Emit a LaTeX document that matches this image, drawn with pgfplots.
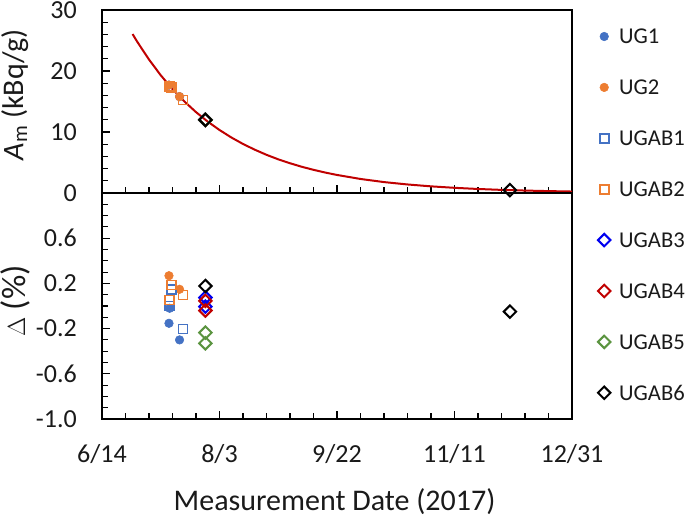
\documentclass[border=0pt]{standalone}
\usepackage{fontspec}
\setmainfont{Carlito}
\usepackage{pgfplots}
\pgfplotsset{compat=1.18}
\definecolor{ugblue}{HTML}{4472C4}
\definecolor{ugorange}{HTML}{ED7D31}
\definecolor{abblue}{HTML}{0000F0}
\definecolor{abred}{HTML}{C00000}
\definecolor{abgreen}{HTML}{5B9440}
\definecolor{curvered}{HTML}{C00000}
\definecolor{txt}{HTML}{1A1A1A}
\begin{document}
\begin{tikzpicture}
\useasboundingbox (0pt,0pt) rectangle (686pt,517pt);
\pgfplotsset{
  panel/.style={
    scale only axis, width=470pt,
    xmin=0, xmax=200,
    xtick={0,50,100,150,200},
    minor x tick num=4,
    tick align=inside,
    xtick pos=bottom, ytick pos=left,
    axis line style={line width=1.6pt, black},
    every tick/.style={line width=1.1pt, black},
    major tick length=8pt, minor tick length=6pt,
    ticklabel style={font=\fontsize{26}{26}\selectfont, text=txt},
    /pgf/number format/assume math mode=true,
    yticklabel style={anchor=east, inner sep=0pt, xshift=-25pt},
    xticklabel style={anchor=base, inner sep=0pt, yshift=-43pt},
    clip=false,
  },
  pug1/.style={only marks, mark=*, mark size=4.3pt, color=ugblue, mark options={fill=ugblue, line width=0.5pt}},
  pug2/.style={only marks, mark=*, mark size=4.3pt, color=ugorange, mark options={fill=ugorange, line width=0.5pt}},
  pab1/.style={only marks, mark=square, mark size=4.5pt, color=ugblue, mark options={line width=1.6pt}},
  pab2/.style={only marks, mark=square, mark size=4.5pt, color=ugorange, mark options={line width=1.6pt}},
  pab3/.style={only marks, mark=square, mark size=4.4pt, color=abblue, mark options={line width=2pt, rotate=45}},
  pab4/.style={only marks, mark=square, mark size=4.4pt, color=abred, mark options={line width=2pt, rotate=45}},
  pab5/.style={only marks, mark=square, mark size=4.4pt, color=abgreen, mark options={line width=2pt, rotate=45}},
  pab6/.style={only marks, mark=square, mark size=4.4pt, color=black, mark options={line width=2pt, rotate=45}},
}
% ---------------- top panel ----------------
\begin{axis}[panel,
  at={(102pt,324pt)}, anchor=south west,
  height=183pt,
  ymin=0, ymax=30, ytick={0,10,20,30}, minor y tick num=4,
  xticklabels={},
  ylabel={\textit{A}\textsubscript{m} (kBq/g)},
  every axis y label/.style={at={(axis description cs:-0.185,0.536)}, rotate=90, anchor=center, font=\fontsize{30}{30}\selectfont, text=txt},
  legend style={draw=none, fill=none, at={(axis description cs:1.0511,0.8962)}, anchor=north west,
    inner sep=0pt, row sep=36.3pt, column sep=7pt,
    font=\fontsize{22.6}{22.6}\selectfont, text=txt,
    nodes={inner sep=0pt, text height=14.6pt, text depth=0pt},
    cells={anchor=west}},
  legend image code/.code={\path[draw=none,fill=none] (-8pt,-5pt) rectangle (8pt,5pt); \draw[#1] plot coordinates {(0pt,0pt)};},
]
\addplot[curvered, line width=2pt, forget plot] coordinates {
(13,26.06) (15,24.79) (20,21.88) (25,19.30) (30,17.03) (35,15.03) (40,13.26) (45,11.70) (50,10.33) (55,9.11) (60,8.04) (65,7.10) (70,6.26) (75,5.52) (80,4.88) (85,4.30) (90,3.80) (95,3.35) (100,2.96) (110,2.30) (120,1.79) (130,1.40) (140,1.09) (150,0.85) (160,0.66) (170,0.51) (180,0.40) (190,0.31) (200,0.24)};
\addplot[pug1] coordinates {(28.5,17.69) (33,15.80)};
\addlegendentry{UG1}
\addplot[pug2] coordinates {(28.5,17.69) (33,15.80)};
\addlegendentry{UG2}
\addplot[pab1] coordinates {(29.5,17.3) (28.8,17.5) (34.5,15.22)};
\addlegendentry{UGAB1}
\addplot[pab2] coordinates {(29.5,17.3) (28.8,17.5) (34.5,15.22)};
\addlegendentry{UGAB2}
\addplot[pab3] coordinates {(44,12.0) (44,12.0)};
\addlegendentry{UGAB3}
\addplot[pab4] coordinates {(44,12.0) (44,12.0)};
\addlegendentry{UGAB4}
\addplot[pab5] coordinates {(44,12.0) (44,12.0)};
\addlegendentry{UGAB5}
\addplot[pab6] coordinates {(44,12.0) (173.6,0.47)};
\addlegendentry{UGAB6}
\end{axis}
% ---------------- bottom panel ----------------
\begin{axis}[panel,
  at={(102pt,98pt)}, anchor=south west,
  height=226pt,
  ymin=-1, ymax=1, ytick={-1,-0.6,-0.2,0.2,0.6},
  minor ytick={-0.9,-0.8,-0.7,-0.5,-0.4,-0.3,-0.1,0,0.1,0.3,0.4,0.5,0.7,0.8,0.9},
  yticklabel style={/pgf/number format/.cd, fixed, fixed zerofill, precision=1},
  xticklabels={6/14,8/3,9/22,11/11,12/31},
  ylabel={$\Delta$ (\%)},
  every axis y label/.style={at={(axis description cs:-0.185,0.522)}, rotate=90, anchor=center, font=\fontsize{34}{34}\selectfont, text=txt},
  xlabel={Measurement Date (2017)},
  every axis x label/.style={at={(axis description cs:0.4947,0)}, anchor=base, yshift=-91.7pt, font=\fontsize{30}{30}\selectfont, text=txt},
]
\addplot[pug1] coordinates {(28.8,-0.02) (28.5,-0.153) (33,-0.30)};
\addplot[pug2] coordinates {(28.5,0.268) (33,0.148)};
\addplot[pab1] coordinates {(29.5,0.148) (28.8,0.0) (34.5,-0.204)};
\addplot[pab2] coordinates {(29.5,0.186) (28.8,0.053) (34.5,0.097)};
\addplot[pab3] coordinates {(44,0.075) (44,-0.005)};
\addplot[pab4] coordinates {(44,0.045) (44,-0.04)};
\addplot[pab5] coordinates {(44,-0.236) (44,-0.33)};
\addplot[pab6] coordinates {(44,0.177) (173.6,-0.05)};
\end{axis}
\end{tikzpicture}
\end{document}
